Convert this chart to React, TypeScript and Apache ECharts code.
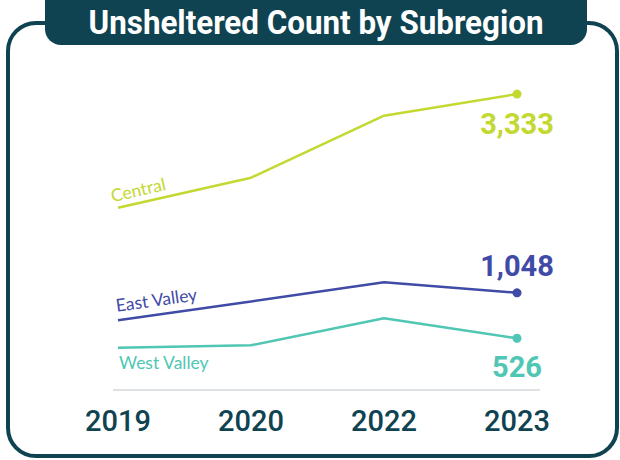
import { useEffect, useRef } from 'react';
import * as echarts from 'echarts';

const years = ['2019', '2020', '2022', '2023'];
const central = [2026, 2371, 3084, 3333];
const eastValley = [732, 948, 1169, 1048];
const westValley = [417, 445, 755, 526];
const seriesNames = ['Central', 'East Valley', 'West Valley'];
const seriesValues = [central, eastValley, westValley];
const titleText = 'Unsheltered Count by Subregion';

const seriesColors = ['#c3d830', '#3f4ba6', '#50c6b4'];
const nameRotations = [13, 8, 0];
const nameOffsets = [[-5, -3], [-1, -6], [1, 6]];
const nameVAlign = ['bottom', 'bottom', 'top'];
const endOffsets = [[0, 30], [0, -27], [0, 29]];

const DARK = '#0f4351';
const FONT = "Roboto, 'Noto Sans', sans-serif";

const fmt = (v: number) => v.toLocaleString('en-US');

function measure(text: string, font: string): number {
  const c = document.createElement('canvas').getContext('2d');
  if (!c) return 0;
  c.font = font;
  return c.measureText(text).width;
}

export default function App() {
  const ref = useRef<HTMLDivElement>(null);
  useEffect(() => {
    if (!ref.current) return;
    const chart = echarts.init(ref.current, null, { renderer: 'svg' });
    const titleW = measure(titleText, 'bold 34px Roboto');
    const titleScale = titleW > 0 ? 455 / titleW : 1;
    const baseGraphic: any[] = [
      {
        type: 'rect', id: 'frame', z: 1,
        shape: { x: 8, y: 23, width: 609, height: 433, r: 28 },
        style: { fill: 'none', stroke: DARK, lineWidth: 4 },
      },
      {
        type: 'rect', id: 'titlebox', z: 2,
        shape: { x: 45, y: -20, width: 542, height: 65, r: 16 },
        style: { fill: DARK },
      },
      {
        type: 'text', id: 'title', z: 3, x: 316, y: 23, scaleX: titleScale,
        style: {
          text: titleText, fill: '#ffffff', fontSize: 34, fontWeight: 'bold',
          fontFamily: 'Roboto', align: 'center', verticalAlign: 'middle',
        },
      },
      {
        type: 'line', id: 'baseline', z: 1,
        shape: { x1: 113, y1: 390, x2: 540, y2: 390 },
        style: { stroke: '#d5d8dc', lineWidth: 1.5 },
      },
    ];
    const series = seriesValues.map((vals, si) => ({
      type: 'line',
      name: seriesNames[si],
      symbol: 'none',
      silent: true,
      color: seriesColors[si],
      lineStyle: { color: seriesColors[si], width: 2.5 },
      itemStyle: { color: seriesColors[si] },
      emphasis: { disabled: true },
      data: vals.map((v, i) =>
        i === vals.length - 1
          ? {
              value: v,
              symbol: 'circle',
              symbolSize: 9,
              label: {
                show: true,
                position: 'inside',
                offset: endOffsets[si],
                formatter: fmt(v),
                color: seriesColors[si],
                fontSize: 29,
                fontWeight: 'bold',
                fontFamily: FONT,
              },
            }
          : v
      ),
    }));
    chart.setOption({
      animation: false,
      grid: { left: 118, right: 103, top: 79.5, bottom: 76 },
      xAxis: {
        type: 'category',
        data: years,
        boundaryGap: false,
        axisLine: { show: false },
        axisTick: { show: false },
        axisLabel: { color: DARK, fontSize: 29, fontWeight: 500, fontFamily: FONT, margin: 22 },
      },
      yAxis: { type: 'value', min: 0, max: 3500, show: false },
      series,
      graphic: baseGraphic,
    });
    const nameGraphics = seriesValues.map((vals, si) => {
      const p = chart.convertToPixel({ seriesIndex: si }, [0, vals[0]]) as number[];
      return {
        type: 'text', id: 'name' + si, z: 3,
        x: p[0] + nameOffsets[si][0],
        y: p[1] + nameOffsets[si][1],
        rotation: (nameRotations[si] * Math.PI) / 180,
        style: {
          text: seriesNames[si], fill: seriesColors[si], fontSize: 17.5,
          fontFamily: 'Lato, sans-serif', align: 'left', verticalAlign: nameVAlign[si],
        },
      };
    });
    chart.setOption({ graphic: [...baseGraphic, ...nameGraphics] });
    return () => chart.dispose();
  }, []);
  return (
    <div
      ref={ref}
      style={{ position: 'fixed', left: 0, top: 0, width: 620, height: 460, background: '#fff' }}
    />
  );
}
